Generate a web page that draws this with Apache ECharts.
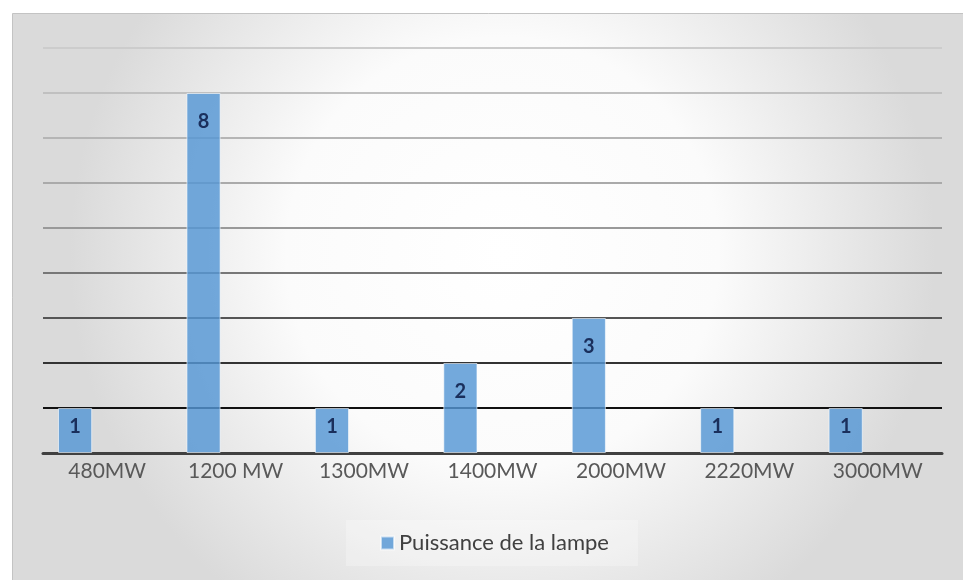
<!DOCTYPE html>
<html><head><meta charset="utf-8">
<script src="https://cdn.jsdelivr.net/npm/echarts@6/dist/echarts.min.js"></script>
<style>html,body{margin:0;padding:0;background:#fff;overflow:hidden}#c{width:963px;height:580px}</style>
</head><body><div id="c"></div>
<script>
const categories = ['480MW','1200 MW','1300MW','1400MW','2000MW','2220MW','3000MW'];
const values = [1,8,1,2,3,1,1];
const seriesName = 'Puissance de la lampe';
const gridColors = ['#404040','#111111','#333333','#555555','#777777','#999999','#aaaaaa','#b5b5b5','#c0c0c0','#cccccc'];

const chart = echarts.init(document.getElementById('c'));
chart.setOption({
  animation:false,
  graphic:[{type:'rect',z:-10,silent:true,shape:{x:12.5,y:13.5,width:980,height:600},
    style:{stroke:'#c3c3c3',lineWidth:1,
      fill:{type:'radial',x:0.5,y:0.4,r:0.72,colorStops:[{offset:0,color:'#ffffff'},{offset:0.5,color:'#fbfbfb'},{offset:1,color:'#dadada'}]}}}],
  grid:{left:43,right:21,top:48,bottom:127},
  legend:{data:[seriesName],left:346,top:520,itemWidth:13,itemHeight:13,itemGap:6,
    padding:[12,29,12,34],backgroundColor:'rgba(255,255,255,0.25)',
    icon:'rect',textStyle:{fontFamily:'Lato',fontSize:22,color:'#404040'}},
  xAxis:{type:'category',data:categories,
    axisLine:{lineStyle:{color:'#404040',width:3}},axisTick:{show:false},
    axisLabel:{fontFamily:'Lato',fontSize:21,color:'#595959',margin:8}},
  yAxis:{type:'value',min:0,max:9,interval:1,axisLabel:{show:false},axisLine:{show:false},axisTick:{show:false},
    splitLine:{lineStyle:{color:gridColors,width:2}}},
  series:[
    {name:seriesName,type:'bar',barCategoryGap:'23.4%',barGap:'88%',
      itemStyle:{color:'rgba(84,150,212,0.82)',borderColor:'rgba(255,255,255,0.6)',borderWidth:1},
      data:values.map(v=>({value:v,label:{distance:v<=1?9:19}})),
      label:{show:true,position:'insideTop',fontFamily:'Lato',fontWeight:'bold',fontSize:20,color:'#1a2f5c'},
      z:3},
    {name:'_empty',type:'bar',data:values.map(()=>'-')}
  ]
});
</script></body></html>
